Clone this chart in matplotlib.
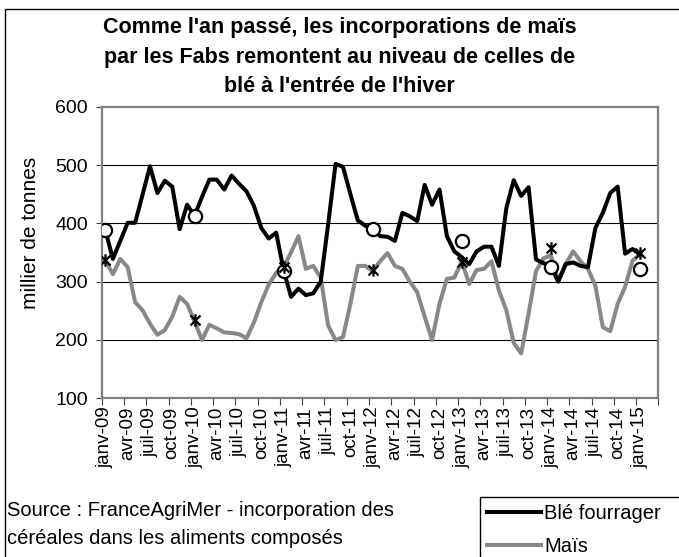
import matplotlib.pyplot as plt
import numpy as np
from matplotlib.patches import Rectangle
from matplotlib.path import Path

plt.rcParams['font.family'] = ['Liberation Sans', 'DejaVu Sans']

# x tick labels, one every 3 months
mois = ['janv', 'avr', 'juil', 'oct']
annees = ['09', '10', '11', '12', '13', '14', '15']
tick_labels = [f'{m}-{a}' for a in annees for m in mois][:25]

# monthly incorporations (milliers de tonnes), janv-09 .. janv-15
ble = [388, 339, 370, 401, 401, 449, 498, 452, 473, 463, 390, 432,
       413, 445, 475, 475, 458, 482, 468, 455, 430, 392, 374, 384,
       320, 274, 288, 277, 280, 300, 398, 502, 497, 450, 405, 396,
       390, 378, 377, 370, 418, 412, 404, 466, 432, 458, 378, 352,
       342, 330, 352, 360, 360, 327, 426, 474, 447, 462, 338, 332,
       326, 300, 330, 333, 327, 325, 392, 418, 452, 463, 348, 356,
       347]
mais = [336, 313, 339, 325, 265, 251, 228, 209, 217, 240, 274, 262,
        232, 200, 226, 220, 213, 212, 210, 203, 230, 265, 295, 315,
        325, 350, 378, 322, 327, 307, 225, 200, 205, 262, 327, 327,
        318, 335, 349, 327, 322, 300, 282, 240, 200, 262, 305, 307,
        335, 296, 320, 322, 335, 285, 251, 195, 177, 245, 318, 340,
        345, 302, 330, 352, 335, 322, 293, 222, 215, 262, 291, 336,
        347]

# january points highlighted with markers
janv_idx = [0, 12, 24, 36, 48, 60, 72]
ble_janv = [388, 413, 318, 391, 370, 325, 322]
mais_janv = [338, 234, 326, 320, 333, 358, 349]

n_categories = 75
x = np.arange(len(ble))

# asterisk marker like Excel: vertical bar + X
star = Path([(0, -1), (0, 1), (-0.8, -0.8), (0.8, 0.8), (-0.8, 0.8), (0.8, -0.8)],
            [Path.MOVETO, Path.LINETO, Path.MOVETO, Path.LINETO, Path.MOVETO, Path.LINETO])

fig = plt.figure(figsize=(6.79, 5.57), dpi=100)
ax = fig.add_axes([0.1498, 0.2849, 0.8200, 0.5235])

l1, = ax.plot(x, ble, color='black', lw=2.9, label='Blé fourrager', zorder=3)
l2, = ax.plot(x, mais, color='#888888', lw=2.9, label='Maïs', zorder=2)
ax.plot(janv_idx, ble_janv, ls='none', marker='o', ms=9.5, mfc='white',
        mec='black', mew=1.6, zorder=4)
ax.plot(janv_idx, mais_janv, ls='none', marker=star, ms=9, mec='black',
        mew=1.6, zorder=4)

ax.set_xlim(-0.5, n_categories - 0.5)
ax.set_ylim(100, 600)
ax.set_yticks(range(100, 601, 100))
ax.yaxis.grid(True, color='black', lw=0.8)
grid = ax.get_ygridlines()
grid[0].set_visible(False)
grid[-1].set_visible(False)
ax.set_axisbelow(True)

ax.set_xticks(np.arange(-0.5, n_categories, 3))
ax.set_xticklabels([])
ax.set_xticks(np.arange(0, len(ble), 3), minor=True)
ax.set_xticklabels(tick_labels, minor=True, rotation=90, fontsize=13.5)
ax.tick_params(axis='x', which='minor', length=0, pad=6)
ax.tick_params(axis='x', which='major', length=5, color='#404040')
ax.tick_params(axis='y', length=4, color='#404040', labelsize=14, pad=6)

for s in ax.spines.values():
    s.set_color('#808080')
    s.set_linewidth(1.6)

fig.text(0.5, 1 - 57 / 557,
         "Comme l'an passé, les incorporations de maïs\n"
         "par les Fabs remontent au niveau de celles de\n"
         "blé à l'entrée de l'hiver",
         ha='center', va='center', fontsize=15.5, weight='bold', linespacing=1.5)
fig.text(31 / 679, 1 - 233 / 557, 'millier de tonnes', rotation=90,
         ha='center', va='center', fontsize=15)
fig.text(7 / 679, 1 - 524 / 557,
         'Source : FranceAgriMer - incorporation des\n'
         'céréales dans les aliments composés',
         ha='left', va='center', fontsize=14.5, linespacing=1.6)

# chart border and legend box
fig.patches.append(Rectangle((5 / 679, -0.1), 1.2, 1.1 - 9 / 557,
                             transform=fig.transFigure, fill=False,
                             ec='black', lw=1))
fig.patches.append(Rectangle((480 / 679, -0.1), 0.5, 0.1 + (557 - 497) / 557,
                             transform=fig.transFigure, fill=False,
                             ec='black', lw=1))
fig.legend(handles=[l1, l2], loc='upper left',
           bbox_to_anchor=(480 / 679, 1 - 497 / 557), frameon=False,
           borderaxespad=0, borderpad=0.35, handlelength=2.7,
           handletextpad=0.15, labelspacing=0.7, fontsize=14.5)

fig.savefig('out.png', dpi=100)
